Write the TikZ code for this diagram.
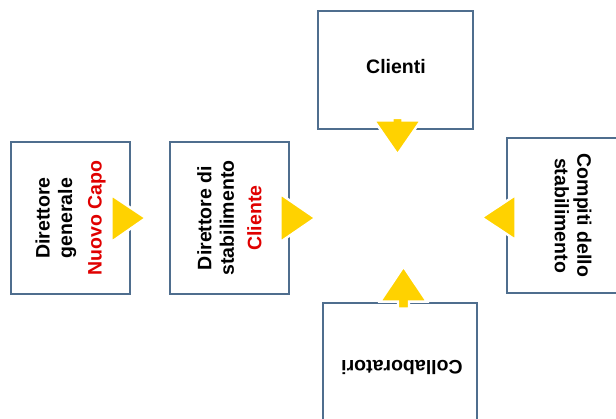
\documentclass[tikz,border=0pt]{standalone}
\usepackage{fontspec}
\setmainfont{Liberation Sans}
\usepackage{xcolor}
\usepackage{tikz}
\usetikzlibrary{positioning}
\definecolor{steel}{HTML}{4F6E8E}
\definecolor{gold}{HTML}{FFD200}
\definecolor{accent}{HTML}{E00000}
\tikzset{
  box/.style={rectangle,draw=steel,line width=2.8pt,fill=white,inner sep=0pt},
  caption/.style={font=\fontsize{19.5}{22.5}\selectfont\bfseries,align=center,inner sep=0pt},
  pointer/.style={fill=gold,draw=white,line width=2.4pt}
}

\begin{document}
\begin{tikzpicture}[x=1pt,y=-1pt]
\useasboundingbox (0,0) rectangle (616,419);
\node[box,minimum width=119,minimum height=152] (dg) at (70.5,218) {};
\node[box,minimum width=119,minimum height=152] (ds) at (229.5,218) {};
\node[box,minimum width=155,minimum height=118] (cl) at (395.5,70) {};
\node[box,minimum width=132,minimum height=155] (cp) at (573,215.5) {};
\node[box,minimum width=154,minimum height=128] (co) at (400,367) {};
\node[caption,rotate=90] (dgt) at (dg) {Direttore\\generale\\[7pt]\textcolor{accent}{Nuovo Capo}};
\node[caption,rotate=90] (dst) at (ds) {Direttore di\\stabilimento\\[5pt]\textcolor{accent}{Cliente}};
\node[caption] (clt) at (396,67) {Clienti};
\node[caption,rotate=-90] (cpt) at (cp) {Compiti dello\\stabilimento};
\node[caption,rotate=180] (cot) at (402,367) {Collaboratori};
\draw[pointer] ([shift={(-20,-23)}]dg.east) -- ([shift={(14.5,0)}]dg.east) -- ([shift={(-20,24)}]dg.east) -- cycle;
\draw[pointer] ([shift={(-10,-24)}]ds.east) -- ([shift={(25,0)}]ds.east) -- ([shift={(-10,24)}]ds.east) -- cycle;
\draw[pointer] ([shift={(-3,-12.5)}]cl.south) -- ([shift={(-3,-10)}]cl.south) -- ([shift={(-21.5,-10)}]cl.south)
  -- ([shift={(2,24)}]cl.south) -- ([shift={(25.5,-10)}]cl.south) -- ([shift={(7,-10)}]cl.south)
  -- ([shift={(7,-12.5)}]cl.south) -- cycle;
\draw[pointer] ([shift={(10,-20.5)}]cp.west) -- ([shift={(-24,2)}]cp.west) -- ([shift={(10,24.5)}]cp.west) -- cycle;
\draw[pointer] ([shift={(-2,7)}]co.north) -- ([shift={(-2,0)}]co.north) -- ([shift={(-20,0)}]co.north)
  -- ([shift={(3.5,-35)}]co.north) -- ([shift={(27,0)}]co.north) -- ([shift={(9,0)}]co.north)
  -- ([shift={(9,7)}]co.north) -- cycle;
\end{tikzpicture}
\end{document}
